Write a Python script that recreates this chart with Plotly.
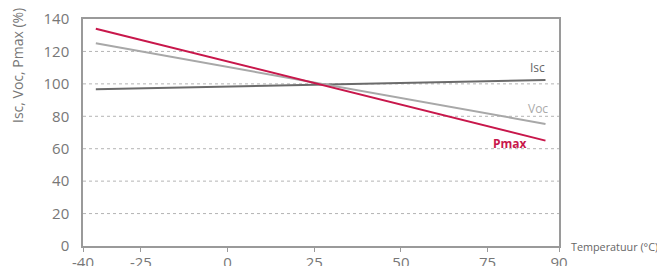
import plotly.graph_objects as go

# Data
temp_start, temp_end = -38.0, 91.7
isc = [96.7, 102.4]
voc = [125.0, 75.3]
pmax = [134.0, 65.0]

x_range = [-41.7, 95.6]
x_tickvals = [-41.7, -25, 0, 25, 50, 75, 95.6]
x_ticktext = ["-40", "-25", "0", "25", "50", "75", "90"]
y_tickvals = [0, 20, 40, 60, 80, 100, 120, 140]

FONT = "Open Sans"
fig = go.Figure()

series = [
    ("Isc", isc, "#6b6b6b"),
    ("Voc", voc, "#a8a8a8"),
    ("Pmax", pmax, "#c8174b"),
]
for name, vals, col in series:
    fig.add_trace(go.Scatter(x=[temp_start, temp_end], y=vals, mode="lines",
                             line=dict(color=col, width=2), name=name,
                             showlegend=False, hoverinfo="skip"))

# grid lines (dashed)
for yv in [20, 40, 60, 80, 100, 120]:
    fig.add_shape(type="line", xref="paper", x0=0, x1=1, yref="y", y0=yv, y1=yv,
                  line=dict(color="#b4b4b4", width=1, dash="3px,3px"), layer="below")

fig.add_annotation(x=89.4, y=110.1, text="Isc", showarrow=False,
                   font=dict(family=FONT, size=12, color="#666666"))
fig.add_annotation(x=89.4, y=85.1, text="Voc", showarrow=False,
                   font=dict(family=FONT, size=12, color="#aaaaaa"))
fig.add_annotation(x=81.5, y=63.5, text="<b>Pmax</b>", showarrow=False,
                   font=dict(family=FONT, size=12, color="#c8174b"))
fig.add_annotation(xref="paper", x=1.0, xshift=10, xanchor="left", y=0, yanchor="middle",
                   text="Temperatuur (°C)", showarrow=False,
                   font=dict(family=FONT, size=10.8, color="#666666"))
fig.add_annotation(xref="paper", yref="paper", x=0, xshift=-65, y=0.793,
                   xanchor="center", yanchor="middle", textangle=-90,
                   text="Isc, Voc, Pmax (%)", showarrow=False,
                   font=dict(family=FONT, size=14, color="#777777"))

# page has an 8px body margin, so the figure is sized to fit the 665x266 window
fig.update_layout(
    width=657, height=258,
    margin=dict(l=75, r=106, t=11, b=20, autoexpand=False),
    paper_bgcolor="white", plot_bgcolor="white",
    font=dict(family=FONT, color="#777777"),
    xaxis=dict(range=x_range, tickvals=x_tickvals, ticktext=x_ticktext, automargin=False,
               showgrid=False, zeroline=False, showline=True, mirror=True,
               linecolor="#9a9a9a", linewidth=1.5, ticks="outside", ticklen=4,
               tickcolor="#9a9a9a", tickfont=dict(family=FONT, size=15, color="#777777"),
               ticklabelstandoff=-2),
    yaxis=dict(range=[0, 140], tickvals=y_tickvals, showgrid=False, zeroline=False,
               automargin=False,
               showline=True, mirror=True, linecolor="#9a9a9a", linewidth=1.5,
               tickfont=dict(family=FONT, size=15, color="#777777"),
               ticklabelstandoff=9),
)

fig.write_html("out.html")
